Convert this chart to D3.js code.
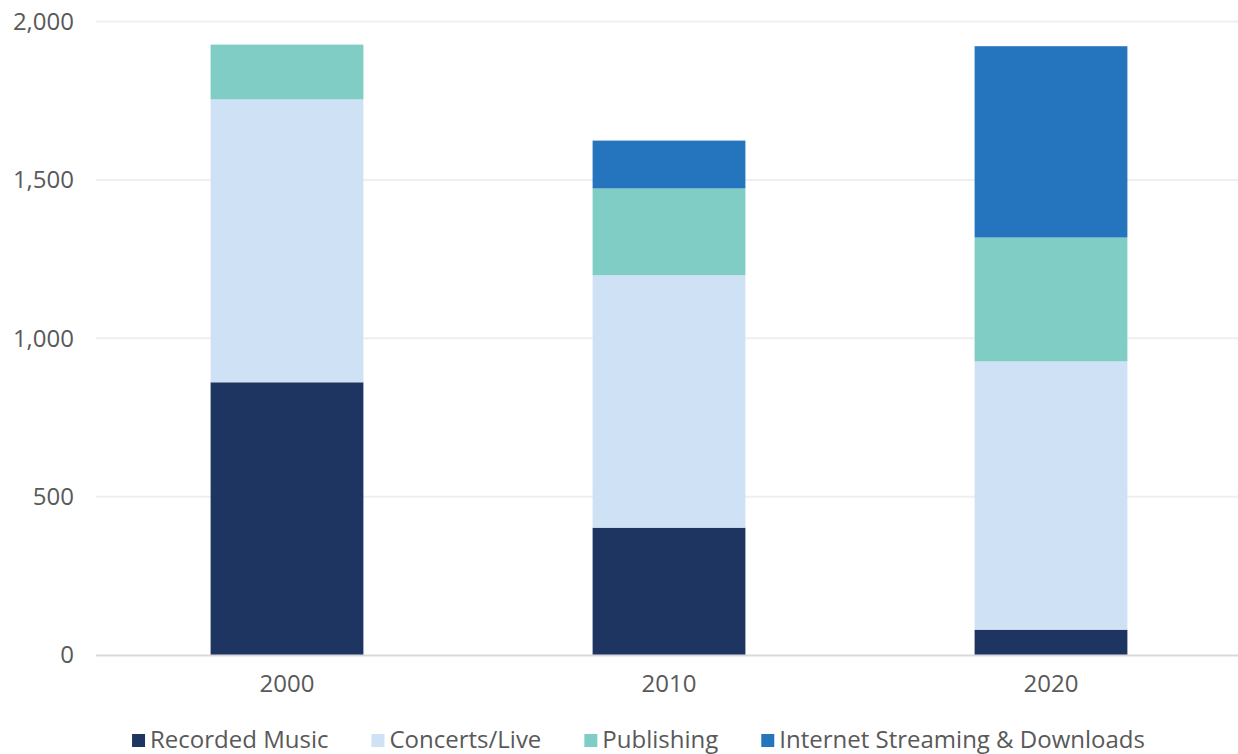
<!DOCTYPE html>
<html lang="en">

<head>
    <meta charset="utf-8" />
    <script src="https://d3js.org/d3.v7.min.js"></script>
    <style type="text/css">
        body {
            margin: 0;
            background: #fff;
        }

        text {
            font-family: "Open Sans", sans-serif;
            fill: #595959;
        }
    </style>
</head>

<body>
    <div class="viz-box"></div>
    <script type="text/javascript">
        // values
        var years = ["2000", "2010", "2020"];
        var seriesNames = ["Recorded Music", "Concerts/Live", "Publishing", "Internet Streaming & Downloads"];
        var recorded = [861, 402, 80];
        var concerts = [893, 797, 847];
        var publishing = [173, 274, 391];
        var streaming = [0, 151, 604];
        var yTicks = [0, 500, 1000, 1500, 2000];
        var colors = ["#1e3561", "#cfe2f5", "#7fcdc4", "#2475bd"];

        var rows = years.map(function (y, i) {
            return {
                year: y,
                "Recorded Music": recorded[i],
                "Concerts/Live": concerts[i],
                "Publishing": publishing[i],
                "Internet Streaming & Downloads": streaming[i]
            };
        });

        let width = 1238, height = 754;

        var svg = d3.select(".viz-box")
            .append('svg')
            .attr('width', width)
            .attr('height', height);

        var x = d3.scaleBand()
            .domain(years)
            .range([96, 1242])
            .paddingInner(0.6)
            .paddingOuter(0.3);

        var y = d3.scaleLinear()
            .domain([0, 2000])
            .range([655, 21.5]);

        var color = d3.scaleOrdinal().domain(seriesNames).range(colors);

        // gridlines
        svg.append('g')
            .selectAll('line')
            .data(yTicks.filter(function (d) { return d > 0; }))
            .enter()
            .append('line')
            .attr('x1', 96)
            .attr('x2', width)
            .attr('y1', function (d) { return y(d); })
            .attr('y2', function (d) { return y(d); })
            .attr('stroke', '#efefef')
            .attr('stroke-width', 2);

        // y labels
        svg.append('g')
            .selectAll('text')
            .data(yTicks)
            .enter()
            .append('text')
            .attr('x', 74)
            .attr('y', function (d) { return y(d); })
            .attr('dy', '0.35em')
            .style('text-anchor', 'end')
            .style('font-size', '24px')
            .text(function (d) { return d3.format(',')(d); });

        var stack = d3.stack().keys(seriesNames);
        var layers = stack(rows);

        svg.append('g')
            .selectAll('g')
            .data(layers)
            .enter()
            .append('g')
            .attr('fill', function (d) { return color(d.key); })
            .selectAll('rect')
            .data(function (d) { return d; })
            .enter()
            .append('rect')
            .attr('x', function (d) { return x(d.data.year); })
            .attr('width', x.bandwidth())
            .attr('y', function (d) { return y(d[1]); })
            .attr('height', function (d) { return y(d[0]) - y(d[1]); });

        // zero line
        svg.append('line')
            .attr('x1', 96)
            .attr('x2', width)
            .attr('y1', y(0) + 0.5)
            .attr('y2', y(0) + 0.5)
            .attr('stroke', '#d9d9d9')
            .attr('stroke-width', 2);

        // x labels
        svg.append('g')
            .selectAll('text')
            .data(years)
            .enter()
            .append('text')
            .attr('x', function (d) { return x(d) + x.bandwidth() / 2; })
            .attr('y', 692)
            .style('text-anchor', 'middle')
            .style('font-size', '24px')
            .text(function (d) { return d; });

        // legend
        var legend = svg.append('g').attr('class', 'legend');
        var items = legend.selectAll('g')
            .data(seriesNames)
            .enter()
            .append('g');

        items.append('rect')
            .attr('width', 13)
            .attr('height', 13)
            .attr('y', 734)
            .attr('fill', function (d) { return color(d); });

        items.append('text')
            .attr('x', 18)
            .attr('y', 748)
            .style('font-size', '24px')
            .text(function (d) { return d; });

        var offsets = [];
        var cx = 0;
        items.each(function (d) {
            offsets.push(cx);
            cx += 18 + d3.select(this).select('text').node().getComputedTextLength() + 43;
        });
        var total = cx - 43;
        var start = 638.5 - total / 2;
        items.attr('transform', function (d, i) { return 'translate(' + (start + offsets[i]) + ',0)'; });
    </script>
</body>

</html>
